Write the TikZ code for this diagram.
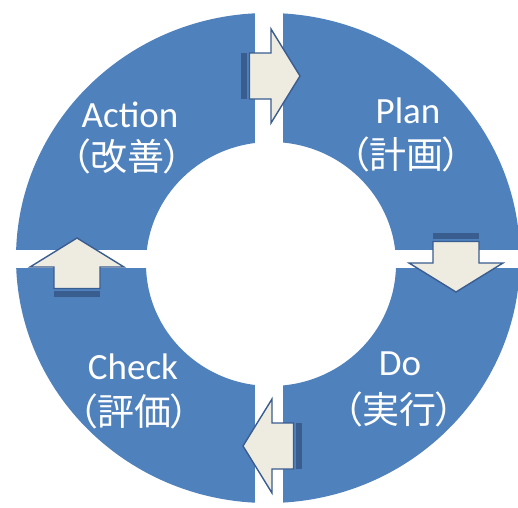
\documentclass[tikz,border=0pt]{standalone}
\usepackage{fontspec}
\setmainfont{Carlito}
\newfontfamily\jpfont[RawFeature={+palt}]{Noto Sans CJK JP}
\definecolor{ringblue}{HTML}{4F81BD}
\definecolor{arrfill}{HTML}{EEECE1}
\definecolor{arrline}{HTML}{3A5D8F}
\tikzset{
  lbl/.style={text=white, font=\fontsize{37}{40}\selectfont, inner sep=0pt, anchor=base},
  jplbl/.style={text=white, font=\jpfont\fontsize{37}{40}\selectfont, inner sep=0pt, anchor=base},
  arrbody/.style={fill=arrfill, draw=arrline, line width=1.4pt, line join=miter},
  arrbar/.style={fill=arrline, draw=none}
}
\newcommand\pdcaarrow[2]{%
  \begin{scope}[shift={#1}, rotate=#2]
    \fill[arrbar] (0,-23) rectangle (6,23);
    \draw[arrbody] (8.5,-23) -- (30,-23) -- (30,-47) -- (59,0) -- (30,47) -- (30,23) -- (8.5,23) -- cycle;
  \end{scope}}
\begin{document}
\begin{tikzpicture}[x=1pt,y=-1pt]
  \useasboundingbox[fill=white] (0,0) rectangle (518,507);
  % ring
  \fill[ringblue, even odd rule]
    (268,258) ellipse [x radius=252, y radius=245]
    (271,264) ellipse [x radius=125, y radius=122];
  % gaps
  \fill[white] (255,0) rectangle (283,507);
  \fill[white] (0,250) rectangle (518,268);
  % arrows
  \pdcaarrow{(241,76)}{0}
  \pdcaarrow{(456,233)}{-90}
  \pdcaarrow{(302,446)}{180}
  \pdcaarrow{(77,297)}{90}
  % labels
  \node[lbl] (action) at (130,127) {Action};
  \node[jplbl] (actionjp) at (127,170) {（改善）};
  \node[lbl] (plan) at (408,123) {Plan};
  \node[jplbl] (planjp) at (406,168) {（計画）};
  \node[lbl] (do) at (400,375) {Do};
  \node[jplbl] (dojp) at (399,423) {（実行）};
  \node[lbl] (check) at (133,379) {Check};
  \node[jplbl] (checkjp) at (134,425) {（評価）};
\end{tikzpicture}
\end{document}
